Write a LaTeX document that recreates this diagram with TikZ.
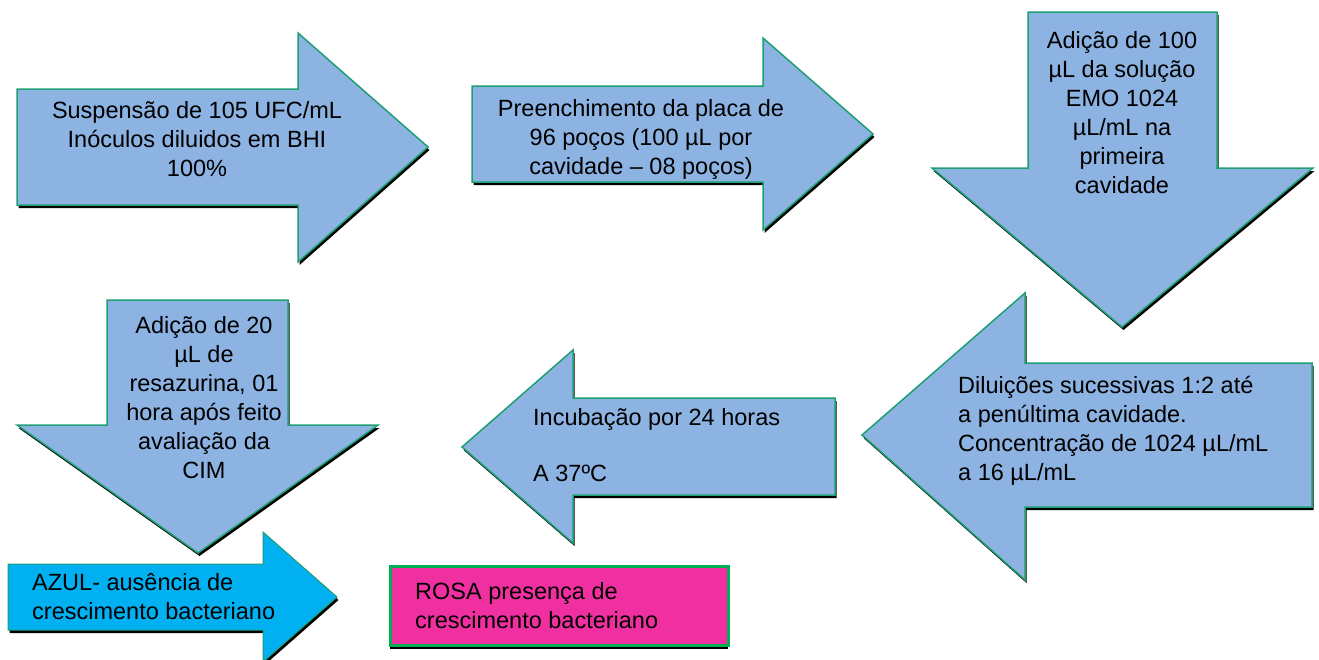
\documentclass[tikz,border=0pt]{standalone}
\usepackage{fontspec}
\setmainfont{Liberation Sans}
\usetikzlibrary{shadows}
\definecolor{azulseta}{HTML}{8DB3E2}
\definecolor{verdeborda}{HTML}{1F9E74}
\definecolor{azulclaro}{HTML}{00B0F0}
\definecolor{rosa}{HTML}{F030A0}
\definecolor{verdevivo}{HTML}{00B050}
\begin{document}
\begin{tikzpicture}[x=1pt, y=-1pt,
    sombra/.style={general shadow={fill=black, shadow xshift=1.5pt, shadow yshift=-3pt}},
    seta/.style={sombra, fill=azulseta, draw=verdeborda, line width=1.5pt},
    texto/.style={font=\fontsize{23.5}{29}\selectfont, inner sep=0pt, align=center}]
    \useasboundingbox (0,0) rectangle (1319,659);
    % primeira linha
    \draw[seta] (17,89) -- (298,89) -- (298,33) -- (428,147) -- (298,262) -- (298,205) -- (17,205) -- cycle;
    \node[texto] (suspensao) at (197,139) {Suspensão de 105 UFC/mL\\Inóculos diluidos em BHI\\100\%};
    \draw[seta] (472,86) -- (763,86) -- (763,38) -- (873,134) -- (763,230) -- (763,182) -- (472,182) -- cycle;
    \node[texto] (preenchimento) at (641,139) {Preenchimento da placa de\\96 poços (100 µL por\\cavidade – 08 poços)};
    \draw[seta] (1028,12) -- (1217,12) -- (1217,168) -- (1313,168) -- (1122,327) -- (932,168) -- (1028,168) -- cycle;
    \node[texto] (adicao) at (1122,113) {Adição de 100\\µL da solução\\EMO 1024\\µL/mL na\\primeira\\cavidade};
    % segunda linha
    \draw[seta] (1312,363) -- (1025,363) -- (1025,293) -- (862,435) -- (1025,580) -- (1025,507) -- (1312,507) -- cycle;
    \node[texto, align=left, anchor=west] (diluicoes) at (958,431) {Diluições sucessivas 1:2 até\\a penúltima cavidade.\\Concentração de 1024 µL/mL\\a 16 µL/mL};
    \draw[seta] (835,398) -- (573,398) -- (573,350) -- (462,447) -- (573,543) -- (573,495) -- (835,495) -- cycle;
    \node[texto, align=left, anchor=west] (incubacao) at (533,445) {Incubação por 24 horas\\[27pt]A 37ºC};
    \draw[seta] (107,300) -- (288,300) -- (288,425) -- (378,425) -- (198,553) -- (17,425) -- (107,425) -- cycle;
    \node[texto] (resazurina) at (204,398) {Adição de 20\\µL de\\resazurina, 01\\hora após feito\\avaliação da\\CIM};
    % resultado
    \draw[seta, fill=azulclaro, line width=1pt] (8,564) -- (263,564) -- (263,532) -- (337,597) -- (263,662) -- (263,630) -- (8,630) -- cycle;
    \node[texto, align=left, anchor=west] (azul) at (32,597) {AZUL- ausência de\\crescimento bacteriano};
    \draw[general shadow={fill=black, shadow yshift=-4pt}, fill=rosa, draw=verdevivo, line width=3pt] (390,566) rectangle (728,645);
    \node[texto, align=left, anchor=west] (rosa) at (415,606) {ROSA presença de\\crescimento bacteriano};
\end{tikzpicture}
\end{document}
